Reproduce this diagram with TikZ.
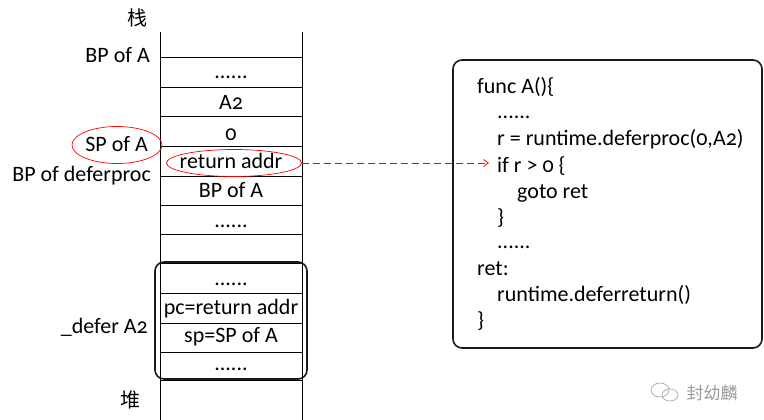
\documentclass[tikz,border=0pt]{standalone}
\usepackage{fontspec}
\setmainfont{Carlito}[Numbers=OldStyle]
\newfontfamily\cjk{Noto Sans CJK SC}
\usetikzlibrary{shapes.geometric,arrows.meta}
\begin{document}
\begin{tikzpicture}[x=1pt,y=-1pt,
  txt/.style={font=\fontsize{22}{26}\selectfont, inner sep=0pt},
  cell/.style={txt, anchor=base},
  lab/.style={txt, anchor=base east},
  code/.style={txt, anchor=base west},
  redell/.style={draw=red, ellipse, inner sep=0pt, line width=0.7pt},
  frame/.style={draw=black!90, line width=1.6pt, rounded corners=9pt},
  stackline/.style={line width=1pt}
]
\useasboundingbox (0,0) rectangle (764,420);
\fill[white] (0,0) rectangle (764,420);

% stack columns
\draw[stackline] (160,32) -- (160,420);
\draw[stackline] (302,32) -- (302,420);
\foreach \y in {58,88,117,146,176,205,234,263,293,323,352,380}
  \draw[stackline] (160,\y) -- (302,\y);

% headings
\node[txt, font=\cjk\fontsize{20}{24}\selectfont] (zhan) at (137,18) {栈};
\node[txt, font=\cjk\fontsize{20}{24}\selectfont] (dui) at (130,400) {堆};

% cell texts
\node[cell] (c1) at (231,79) {......};
\node[cell] (c2) at (231,110) {A2};
\node[cell] (c3) at (231,140) {0};
\node[cell] (c4) at (231,168) {return addr};
\node[cell] (c5) at (231,197) {BP of A};
\node[cell] (c6) at (231,227) {......};
\node[cell] (d1) at (231,285) {......};
\node[cell] (d2) at (231,314) {pc=return addr};
\node[cell] (d3) at (231,342) {sp=SP of A};
\node[cell] (d4) at (231,370) {......};

% left labels
\node[lab] (bpa) at (150,63) {BP of A};
\node[lab] (spa) at (148,151) {SP of A};
\node[lab] (bpd) at (151,181) {BP of deferproc};
\node[lab] (dfa) at (148,333) {\_defer A2};

% red ellipses
\node[redell, minimum width=90pt, minimum height=37pt] (e1) at (117,145) {};
\node[redell, minimum width=135pt, minimum height=27pt] (e2) at (234,163) {};

% defer frame
\draw[frame] (155,262) rectangle (307,379);

% code box
\node[frame, minimum width=309pt, minimum height=288pt, inner sep=0pt] (codebox) at (607.5,204) {};
\node[code] (l1) at (477,94) {func A()\{};
\node[code] (l2) at (497,118) {......};
\node[code] (l3) at (497,146) {r = runtime.deferproc(0,A2)};
\node[code] (l4) at (497,172) {if r > 0 \{};
\node[code] (l5) at (517,198) {goto ret};
\node[code] (l6) at (497,224) {\}};
\node[code] (l7) at (497,248) {......};
\node[code] (l8) at (477,275) {ret:};
\node[code] (l9) at (497,301) {runtime.deferreturn()};
\node[code] (l10) at (477,327) {\}};

% arrow
\coordinate (tgt) at (489,163);
\draw[red, line width=0.7pt, dash pattern=on 7pt off 4pt, -{Straight Barb[length=5pt,width=7pt]}] (e2.east) -- (tgt);

% watermark
\begin{scope}[draw=black!30, line width=0.8pt]
  \draw (660,390) ellipse (9pt and 7pt);
  \draw (670,395) ellipse (8pt and 6pt);
\end{scope}
\node[txt, font=\cjk\fontsize{17}{19}\selectfont, text=black!40] (wm) at (712,393) {封幼麟};
\end{tikzpicture}
\end{document}
